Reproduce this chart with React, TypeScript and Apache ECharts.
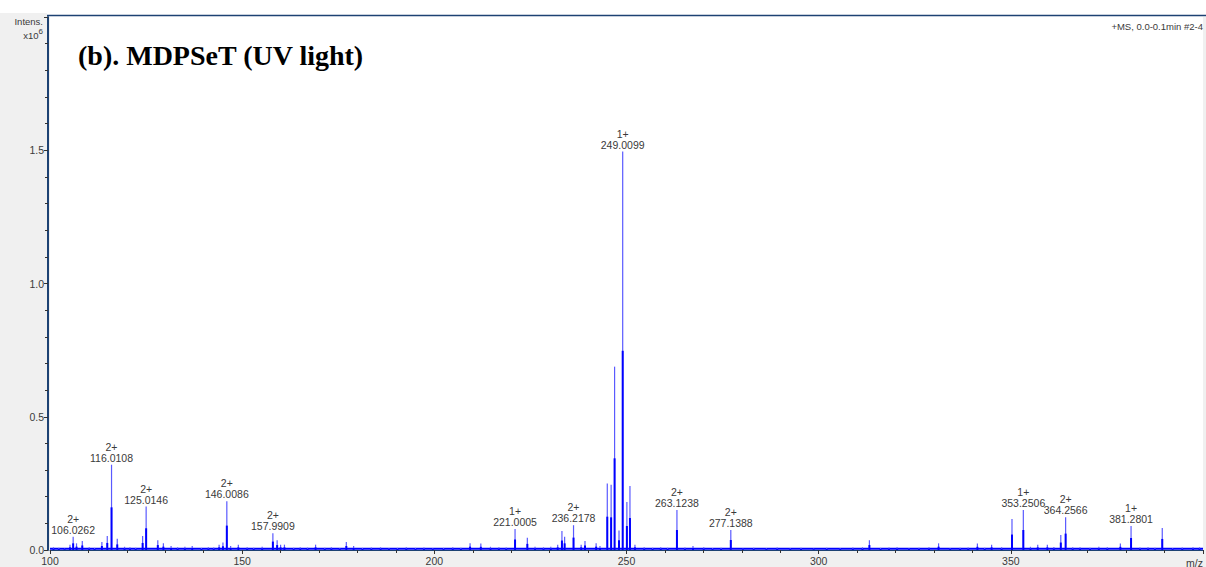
import React, { useEffect, useRef } from "react";
import * as echarts from "echarts";

// Labelled peaks (m/z, intensity x10^6, charge)
const labelMz = [106.0262, 116.0108, 125.0146, 146.0086, 157.9909, 221.0005, 236.2178, 249.0099, 263.1238, 277.1388, 353.2506, 364.2566, 381.2801];
const labelIntensity = [0.05, 0.32, 0.163, 0.183, 0.063, 0.079, 0.093, 1.495, 0.15, 0.075, 0.15, 0.123, 0.09];
const labelCharge = ["2+", "2+", "2+", "2+", "2+", "1+", "2+", "1+", "2+", "2+", "1+", "2+", "1+"];

// Unlabelled peaks
const otherMz = [100.9, 105.2, 106.9, 108.4, 113.5, 114.9, 117.5, 124.1, 128.05, 129.5, 131.5, 137.0, 144.0, 145.0, 147.0, 149.0, 159.1, 160.0, 161.0, 169.1, 177.1, 179.0, 186.0, 209.3, 212.1, 224.2, 226.2, 232.1, 233.2, 233.9, 238.2, 239.2, 242.1, 243.1, 245.0, 246.0, 246.9, 248.05, 250.1, 250.9, 252.2, 267.3, 313.2, 320.4, 331.2, 341.3, 345.0, 350.3, 357.0, 359.5, 363.0, 368.0, 378.5, 389.4, 397.4];
const otherIntensity = [0.01, 0.02, 0.025, 0.034, 0.03, 0.053, 0.042, 0.053, 0.037, 0.025, 0.015, 0.015, 0.02, 0.028, 0.015, 0.02, 0.037, 0.02, 0.02, 0.02, 0.03, 0.015, 0.01, 0.025, 0.024, 0.046, 0.012, 0.02, 0.071, 0.05, 0.02, 0.034, 0.025, 0.015, 0.25, 0.245, 0.688, 0.073, 0.18, 0.24, 0.02, 0.015, 0.037, 0.01, 0.025, 0.024, 0.02, 0.116, 0.02, 0.02, 0.056, 0.01, 0.024, 0.083, 0.01];

// Small noise peaks along the baseline
const noiseMz = [102.3, 103.8, 110.2, 111.6, 119.4, 120.8, 122.3, 133.2, 135.1, 139.4, 141.2, 142.6, 151.3, 153.0, 155.2, 163.4, 165.1, 167.0, 171.5, 173.2, 175.4, 181.3, 183.6, 188.2, 190.4, 192.7, 195.1, 197.3, 199.6, 202.4, 204.8, 206.9, 214.6, 216.8, 218.7, 228.4, 230.3, 254.6, 256.8, 258.9, 260.7, 265.2, 270.1, 272.4, 274.6, 280.3, 283.1, 286.4, 289.2, 292.6, 295.4, 298.7, 302.1, 305.6, 308.9, 311.4, 316.1, 318.3, 323.5, 326.1, 328.7, 334.2, 336.8, 338.9, 343.2, 347.6, 355.1, 361.2, 366.1, 370.6, 372.9, 375.1, 383.6, 385.7, 387.5, 392.1, 394.6, 399.1];
const noiseIntensity = [0.008, 0.006, 0.01, 0.008, 0.012, 0.01, 0.008, 0.01, 0.012, 0.008, 0.01, 0.009, 0.01, 0.008, 0.012, 0.008, 0.01, 0.009, 0.008, 0.01, 0.007, 0.008, 0.009, 0.007, 0.008, 0.01, 0.008, 0.009, 0.007, 0.008, 0.01, 0.008, 0.012, 0.01, 0.009, 0.01, 0.012, 0.01, 0.008, 0.01, 0.008, 0.009, 0.01, 0.007, 0.008, 0.006, 0.008, 0.007, 0.009, 0.007, 0.008, 0.006, 0.008, 0.007, 0.009, 0.01, 0.008, 0.009, 0.007, 0.008, 0.01, 0.007, 0.008, 0.009, 0.008, 0.01, 0.012, 0.011, 0.01, 0.008, 0.012, 0.01, 0.009, 0.01, 0.008, 0.007, 0.009, 0.01];

const baselineMz = [100, 400];
const baselineLevel = [0.005, 0.005];

const xTicks = [100, 150, 200, 250, 300, 350];
const yTicks = [0, 0.5, 1.0, 1.5];

const LIGHT = "#5a5aff";
const DARK = "#0000ff";
const AXIS = "#1d4273";
const TXT = "#3a3a3a";
const FONT = "'Liberation Sans', Arial, sans-serif";

function peakItem(params: any, api: any) {
  const x = api.value(0);
  const y = api.value(1);
  const top = api.coord([x, y]);
  const base = api.coord([x, 0]);
  const mid = api.coord([x, y / 2]);
  const px = top[0];
  return {
    type: "group",
    children: [
      { type: "line", shape: { x1: px, y1: base[1], x2: px, y2: top[1] }, style: { stroke: LIGHT, lineWidth: 1.2 } },
      { type: "line", shape: { x1: px, y1: base[1], x2: px, y2: mid[1] }, style: { stroke: DARK, lineWidth: 2 } },
    ],
  };
}

function labelItem(params: any, api: any) {
  const x = api.value(0);
  const y = api.value(1);
  const top = api.coord([x, y]);
  const i = params.dataIndex;
  return {
    type: "group",
    children: [
      {
        type: "text",
        style: { x: top[0], y: top[1] - 7, text: labelMz[i].toFixed(4), textAlign: "center", textVerticalAlign: "middle", fill: TXT, font: `10.5px ${FONT}` },
      },
      {
        type: "text",
        style: { x: top[0], y: top[1] - 18, text: labelCharge[i], textAlign: "center", textVerticalAlign: "middle", fill: TXT, font: `10.5px ${FONT}` },
      },
    ],
  };
}

export default function App() {
  const ref = useRef<HTMLDivElement>(null);
  useEffect(() => {
    if (!ref.current) return;
    const chart = echarts.init(ref.current, null, { renderer: "svg" });
    const peaks = [
      ...otherMz.map((m, i) => [m, otherIntensity[i]]),
      ...noiseMz.map((m, i) => [m, noiseIntensity[i]]),
      ...labelMz.map((m, i) => [m, labelIntensity[i]]),
    ];
    chart.setOption({
      animation: false,
      backgroundColor: "#f0f0f0",
      grid: { left: 50, right: 0, top: 17, bottom: 17, show: true, backgroundColor: "#ffffff", borderWidth: 0 },
      xAxis: {
        type: "value",
        min: 100,
        max: 400,
        interval: 50,
        axisLine: { show: true, onZero: false, lineStyle: { color: AXIS, width: 1 } },
        axisTick: { show: true, length: 4, lineStyle: { color: "#333" } },
        minorTick: { show: true, splitNumber: 5, length: 3, lineStyle: { color: "#333" } },
        splitLine: { show: false },
        axisLabel: {
          color: TXT,
          fontFamily: FONT,
          fontSize: 10.5,
          margin: 5,
          formatter: (v: number) => (xTicks.includes(v) ? String(v) : ""),
        },
      },
      yAxis: {
        type: "value",
        min: 0,
        max: 2.0,
        interval: 0.5,
        offset: 2,
        axisLine: { show: true, lineStyle: { color: AXIS, width: 2 } },
        axisTick: { show: true, length: 4, lineStyle: { color: "#333" } },
        minorTick: { show: true, splitNumber: 5, length: 3, lineStyle: { color: "#333" } },
        splitLine: { show: false },
        axisLabel: {
          color: TXT,
          fontFamily: FONT,
          fontSize: 10.5,
          margin: 4,
          formatter: (v: number) => (yTicks.some((t) => Math.abs(t - v) < 1e-9) ? v.toFixed(1) : ""),
        },
      },
      series: [
        {
          type: "line",
          data: baselineMz.map((m, i) => [m, baselineLevel[i]]),
          symbol: "none",
          lineStyle: { color: DARK, width: 2 },
          silent: true,
          z: 1,
        },
        {
          type: "custom",
          renderItem: peakItem,
          data: peaks,
          encode: { x: 0, y: 1 },
          clip: true,
          silent: true,
          z: 2,
        },
        {
          type: "custom",
          renderItem: labelItem,
          data: labelMz.map((m, i) => [m, labelIntensity[i]]),
          encode: { x: 0, y: 1 },
          silent: true,
          z: 3,
        },
      ],
      graphic: [
        { type: "rect", left: 0, top: 0, shape: { width: 1206, height: 13 }, style: { fill: "#ffffff" }, silent: true },
        { type: "rect", left: 47, top: 13, shape: { width: 1159, height: 4 }, style: { fill: "#ffffff" }, silent: true, z: -1 },
        { type: "line", shape: { x1: 47, y1: 15.5, x2: 1206, y2: 15.5 }, style: { stroke: AXIS, lineWidth: 1.5 }, silent: true },
        {
          type: "text",
          left: 78,
          top: 41,
          style: { text: "(b). MDPSeT (UV light)", font: "bold 28px 'Liberation Serif', 'Times New Roman', serif", fill: "#000" },
        },
        {
          type: "text",
          right: 1206 - 43,
          top: 16,
          style: { text: "Intens.", font: `9.5px ${FONT}`, fill: TXT, textAlign: "right" },
        },
        {
          type: "text",
          right: 1206 - 43,
          top: 27,
          style: {
            text: "{a|x10}{b|6}",
            rich: {
              a: { font: `9.5px ${FONT}`, fill: TXT, verticalAlign: "bottom" },
              b: { font: `8px ${FONT}`, fill: TXT, verticalAlign: "top", padding: [0, 0, 5, 0] },
            },
          },
        },
        {
          type: "text",
          right: 3,
          top: 21,
          style: { text: "+MS, 0.0-0.1min #2-4", font: `9.5px ${FONT}`, fill: TXT },
        },
        {
          type: "text",
          right: 3,
          top: 557,
          style: { text: "m/z", font: `10.5px ${FONT}`, fill: TXT },
        },
      ],
    });
    return () => chart.dispose();
  }, []);
  return <div ref={ref} style={{ position: "fixed", left: 0, top: 0, width: 1206, height: 567 }} />;
}
